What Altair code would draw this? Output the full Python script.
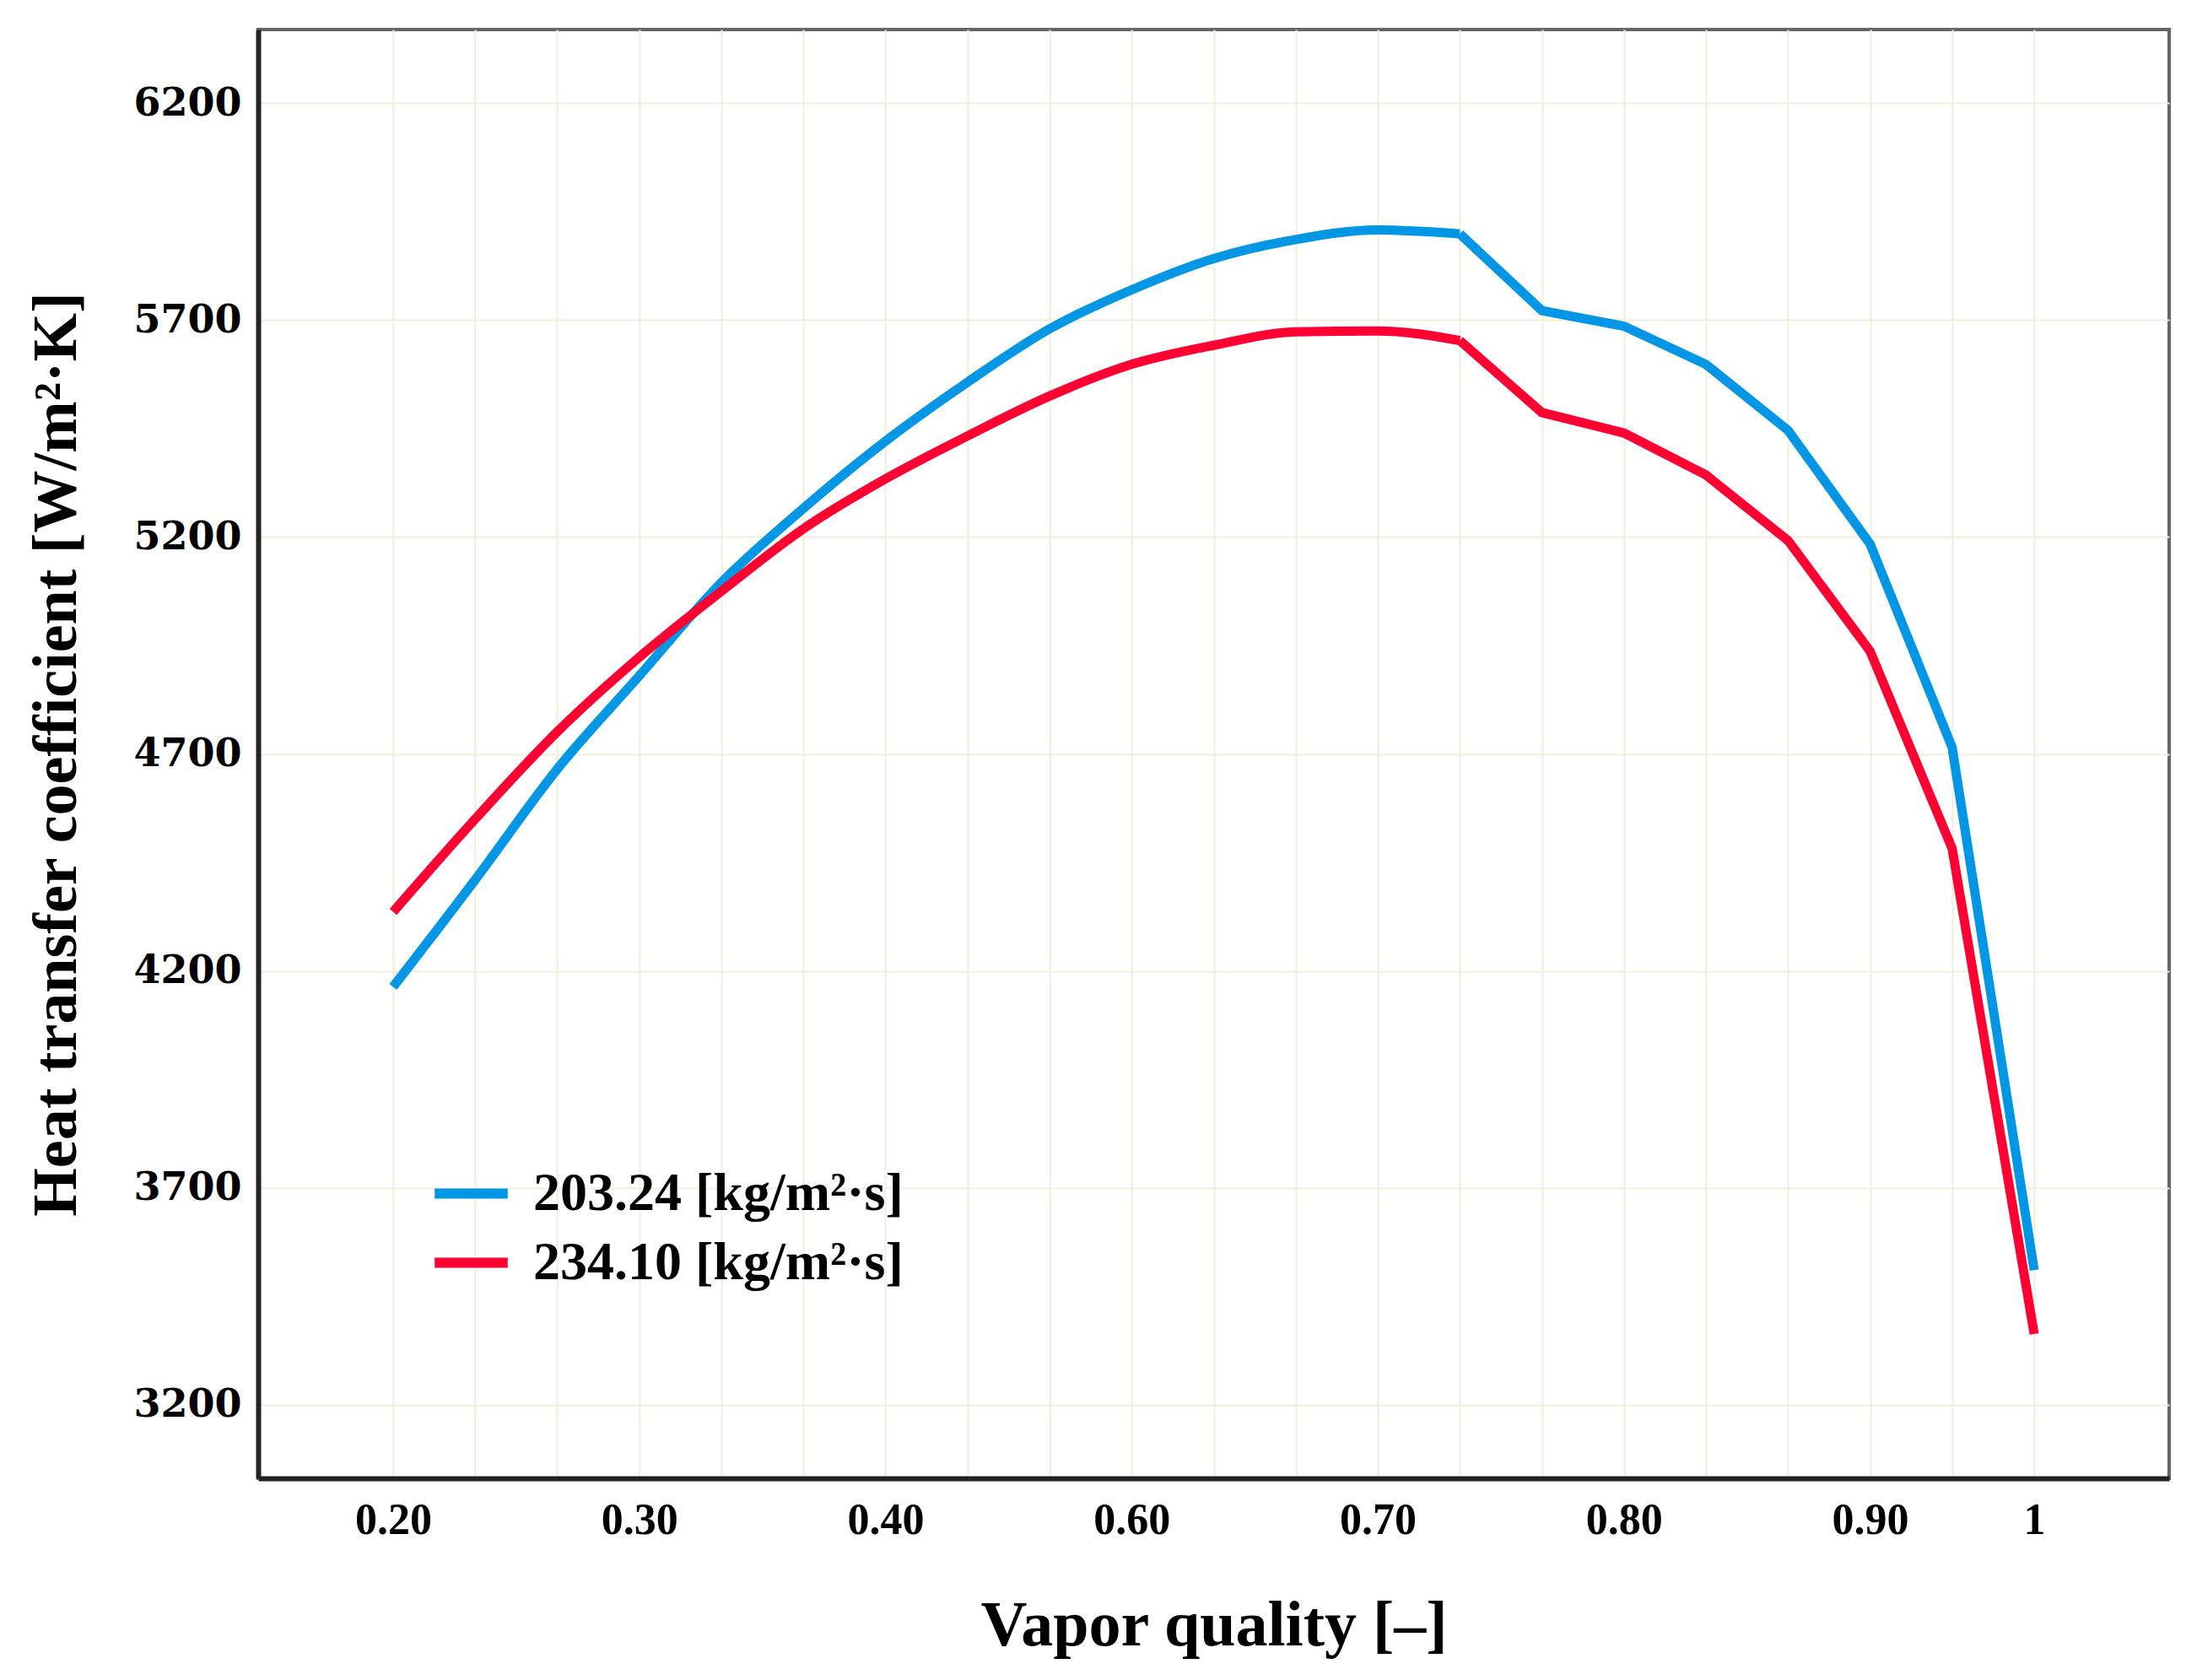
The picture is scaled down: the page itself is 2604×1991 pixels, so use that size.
import altair as alt
import pandas as pd

# Vapor quality categories (evenly spaced on the chart)
quality = [
    "0.20", "0.23", "0.27", "0.30", "0.33", "0.37", "0.40", "0.47", "0.53",
    "0.60", "0.63", "0.67", "0.70", "0.73", "0.77", "0.80", "0.83", "0.87",
    "0.90", "0.95", "1",
]
# Tick labels shown on the x axis
x_labels = ["0.20", "0.30", "0.40", "0.60", "0.70", "0.80", "0.90", "1"]
y_ticks = [3200, 3700, 4200, 4700, 5200, 5700, 6200]

# Heat transfer coefficient [W/m2K] per mass flux
htc_203 = [
    4163, 4410, 4665, 4880, 5095, 5266, 5421, 5557, 5680,
    5770, 5842, 5886, 5908, 5899, 5722, 5686, 5598, 5446,
    5184, 4715, 3510,
]
htc_234 = [
    4336, 4550, 4751, 4923, 5075, 5219, 5334, 5433, 5525,
    5598, 5642, 5673, 5675, 5653, 5487, 5440, 5343, 5192,
    4937, 4482, 3363,
]
series = ["203.24 [kg/m²·s]", "234.10 [kg/m²·s]"]
colors = ["#0096e6", "#ff0033"]

# smooth part of the curves runs up to this point, polyline after it
smooth_end = 13

df = pd.concat(
    [
        pd.DataFrame(
            {"idx": range(len(quality)), "x": quality, "htc": htc_203, "flux": series[0]}
        ),
        pd.DataFrame(
            {"idx": range(len(quality)), "x": quality, "htc": htc_234, "flux": series[1]}
        ),
    ]
)

# label per position, blank where the axis shows none
tick_text = [q if q in x_labels else "" for q in quality]
label_array = "[" + ",".join(f"'{t}'" for t in tick_text) + "]"

pad = 1.645  # empty space left and right of the data, in steps

base = alt.Chart(df).encode(
    alt.X("idx:Q")
    .scale(domain=[-pad, len(quality) - 1 + pad], nice=False, zero=False)
    .title("Vapor quality [–]")
    .axis(
        values=list(range(len(quality))),
        labelExpr=f"{label_array}[datum.value]",
        labelOverlap=False,
        labelFont="Liberation Serif",
        labelFontWeight="bold",
        labelFontSize=52,
        labelPadding=24,
        ticks=False,
        grid=True,
        titlePadding=62,
    ),
    alt.Y("htc:Q")
    .scale(domain=[3030, 6370], nice=False, zero=False)
    .title("Heat transfer coefficient [W/m²·K]")
    .axis(
        values=y_ticks,
        format="d",
        labelFont="DejaVu Serif",
        labelFontWeight="bold",
        labelFontSize=46,
        labelPadding=20,
        ticks=False,
        grid=True,
        titlePadding=52,
    ),
    alt.Color("flux:N")
    .scale(domain=series, range=colors)
    .legend(
        title=None,
        orient="none",
        legendX=203,
        legendY=1330,
        symbolType="stroke",
        symbolSize=7500,
        symbolStrokeWidth=12,
        labelFont="Liberation Serif",
        labelFontWeight="bold",
        labelFontSize=64,
        labelColor="black",
        labelOffset=24,
        rowPadding=-6,
        padding=0,
        labelLimit=800,
    ),
)

# Smooth rise, then the kinked fall-off
rise = base.transform_filter(alt.datum.idx <= smooth_end).mark_line(
    strokeWidth=11, interpolate="monotone"
)
fall = base.transform_filter(alt.datum.idx >= smooth_end).mark_line(strokeWidth=11)

chart = (
    (rise + fall)
    .properties(
        width=2265,
        height=1717,
        padding={"left": 22, "top": 27, "right": 20, "bottom": 5},
    )
    .configure_axis(
        gridColor="#f3eedc",
        gridWidth=2,
        domainColor="#222222",
        domainWidth=6,
        titleFont="Liberation Serif",
        titleFontWeight="bold",
        titleColor="black",
        labelColor="black",
        labelLimit=400,
    )
    .configure_axisX(titleFontSize=76)
    .configure_axisY(titleFontSize=74)
    .configure_view(stroke="#666666", strokeWidth=4)
)

chart.save("out.html", embed_options={"renderer": "svg", "actions": False})
